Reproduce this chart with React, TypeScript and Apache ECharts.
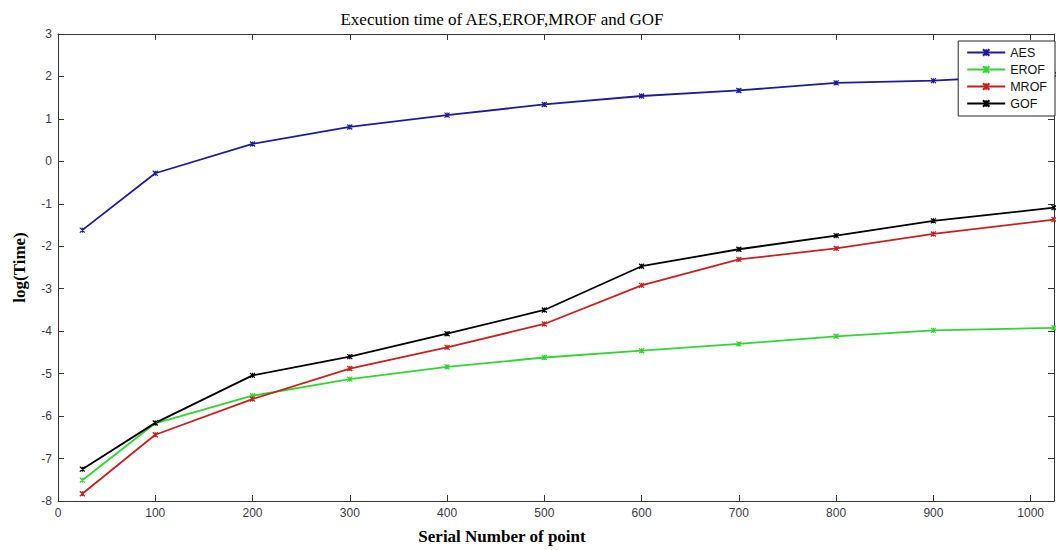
import React, { useEffect, useRef } from "react";
import * as echarts from "echarts";

const xValues = [25, 100, 200, 300, 400, 500, 600, 700, 800, 900, 1024];
const aes = [-1.62, -0.28, 0.41, 0.81, 1.09, 1.34, 1.54, 1.67, 1.85, 1.9, 2.05];
const erof = [-7.51, -6.17, -5.52, -5.13, -4.84, -4.62, -4.46, -4.3, -4.12, -3.98, -3.92];
const mrof = [-7.83, -6.44, -5.6, -4.88, -4.38, -3.83, -2.92, -2.31, -2.05, -1.71, -1.37];
const gof = [-7.25, -6.16, -5.04, -4.6, -4.06, -3.5, -2.47, -2.07, -1.75, -1.4, -1.09];

const seriesDefs = [
  { name: "AES", data: aes, color: "#1c1c9c" },
  { name: "EROF", data: erof, color: "#33d433" },
  { name: "MROF", data: mrof, color: "#c82020" },
  { name: "GOF", data: gof, color: "#000000" },
];

const STAR = "path://M0,0L10,10M10,0L0,10M5,0L5,10";

export default function App() {
  const ref = useRef<HTMLDivElement>(null);
  useEffect(() => {
    if (!ref.current) return;
    const chart = echarts.init(ref.current, null, { renderer: "svg" });
    const axisColor = "#333333";
    const labelStyle = { color: "#3a3848", fontFamily: "Liberation Sans, Arial, sans-serif", fontSize: 12 };
    const lineStyle = { show: true, onZero: false, lineStyle: { color: axisColor, width: 1 } };
    const tickStyle = { show: true, inside: true, length: 6, lineStyle: { color: axisColor } };
    chart.setOption({
      animation: false,
      backgroundColor: "#ffffff",
      title: {
        text: "Execution time of AES,EROF,MROF and GOF",
        left: 497,
        top: 6,
        textAlign: "center",
        textStyle: { fontFamily: "Liberation Serif, Times New Roman, serif", fontSize: 17, fontWeight: "normal", color: "#000" },
      },
      legend: {
        orient: "vertical",
        right: 1,
        top: 41,
        itemWidth: 38,
        itemHeight: 8,
        itemGap: 4,
        padding: [5, 8, 6, 8],
        backgroundColor: "#ffffff",
        borderColor: "#222",
        borderWidth: 1,
        borderRadius: 0,
        textStyle: { fontFamily: "Liberation Sans, Arial, sans-serif", fontSize: 12.5, color: "#111" },
        data: seriesDefs.map((s) => s.name),
      },
      grid: { left: 58, right: 2, top: 34, bottom: 48, containLabel: false },
      xAxis: [
        {
          type: "value",
          min: 0,
          max: 1024,
          interval: 100,
          name: "Serial Number of point",
          nameLocation: "middle",
          nameGap: 27,
          nameTextStyle: {
            fontFamily: "Liberation Serif, Times New Roman, serif",
            fontSize: 17,
            fontWeight: "bold",
            color: "#000",
            padding: [0, 108, 0, 0],
          },
          axisLine: lineStyle,
          axisTick: tickStyle,
          axisLabel: { ...labelStyle, margin: 6, showMaxLabel: false, formatter: (v: number) => String(v) },
          splitLine: { show: false },
        },
        {
          type: "value",
          position: "top",
          min: 0,
          max: 1024,
          interval: 100,
          axisLine: lineStyle,
          axisTick: tickStyle,
          axisLabel: { show: false },
          splitLine: { show: false },
        },
      ],
      yAxis: [
        {
          type: "value",
          min: -8,
          max: 3,
          interval: 1,
          name: "log(Time)",
          nameLocation: "middle",
          nameGap: 30,
          nameTextStyle: {
            fontFamily: "Liberation Serif, Times New Roman, serif",
            fontSize: 17,
            fontWeight: "bold",
            color: "#000",
            padding: [0, 0, 0, 0],
          },
          axisLine: lineStyle,
          axisTick: tickStyle,
          axisLabel: { ...labelStyle, margin: 6, formatter: (v: number) => String(v) },
          splitLine: { show: false },
        },
        {
          type: "value",
          position: "right",
          min: -8,
          max: 3,
          interval: 1,
          axisLine: lineStyle,
          axisTick: tickStyle,
          axisLabel: { show: false },
          splitLine: { show: false },
        },
      ],
      series: seriesDefs.map((s) => ({
        name: s.name,
        type: "line",
        xAxisIndex: 0,
        yAxisIndex: 0,
        data: xValues.map((x, i) => [x, s.data[i]]),
        symbol: STAR,
        symbolSize: 5,
        showSymbol: true,
        clip: false,
        lineStyle: { color: s.color, width: 1.8 },
        itemStyle: { color: s.color, borderColor: s.color, borderWidth: 1.2 },
      })),
    });
    return () => chart.dispose();
  }, []);
  return (
    <div
      ref={ref}
      style={{ position: "fixed", left: 0, top: 0, width: 1056, height: 550 }}
    />
  );
}
